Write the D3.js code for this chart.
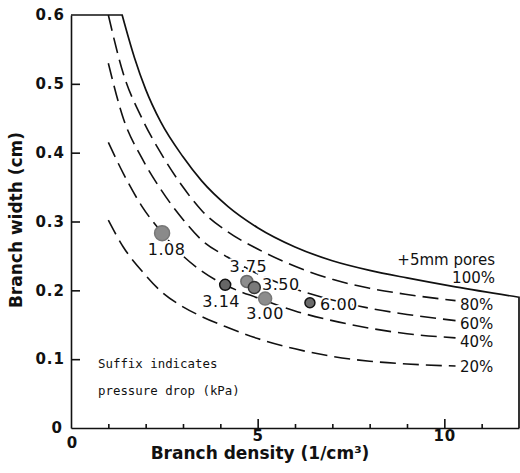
<!DOCTYPE html>
<html>
<head>
<meta charset="utf-8">
<script src="https://cdn.jsdelivr.net/npm/d3@7"></script>
<style>
  html, body { margin: 0; padding: 0; background: #fff; }
  svg { display: block; }
</style>
</head>
<body>
<svg id="chart" width="520" height="473"></svg>
<script>
// ---------------- data ----------------
const densityGrid = [1.0, 1.4, 1.9, 2.4, 3.0, 3.5, 4.2, 5.0, 6.0, 7.0, 8.0, 9.0, 10.3];
const width80 = [0.600, 0.515, 0.450, 0.400, 0.350, 0.316, 0.285, 0.260, 0.235, 0.216, 0.203, 0.194, 0.185];
const width60 = [0.530, 0.450, 0.392, 0.347, 0.303, 0.273, 0.248, 0.224, 0.202, 0.186, 0.174, 0.165, 0.156];
const width40 = [0.415, 0.370, 0.322, 0.286, 0.250, 0.228, 0.206, 0.189, 0.170, 0.156, 0.145, 0.137, 0.131];
const width20 = [0.302, 0.263, 0.228, 0.199, 0.176, 0.162, 0.146, 0.130, 0.115, 0.104, 0.097, 0.093, 0.090];
const dashedNames = ["80%", "60%", "40%", "20%"];

const solidDensity = [1.37, 1.7, 2.0, 2.4, 3.0, 3.5, 4.2, 5.0, 6.0, 7.0, 8.0, 9.0, 10.3, 12.0];
const width100 = [0.600, 0.538, 0.492, 0.445, 0.394, 0.359, 0.322, 0.291, 0.263, 0.243, 0.229, 0.218, 0.205, 0.190];
const plateauWidth = 0.6;

const dotDensity = [2.44, 4.71, 4.91, 4.13, 5.20, 6.40];
const dotWidth = [0.283, 0.213, 0.204, 0.208, 0.188, 0.182];
const dotLabels = ["1.08", "3.75", "3.50", "3.14", "3.00", "6.00"];

const xMinorTicks = [1, 2, 3, 4, 6, 7, 8, 9, 11];
const xMajorTicks = [5, 10];
const yTicks = [0, 0.1, 0.2, 0.3, 0.4, 0.5, 0.6];

// ---------------- styles / layout ----------------
const dotStyle = [
  {r: 7.5, fill: "#8a8a8a", stroke: "#777"},
  {r: 6,   fill: "#8d8d8d", stroke: "#6a6a6a"},
  {r: 6,   fill: "#7a7a7a", stroke: "#333"},
  {r: 5.5, fill: "#666",    stroke: "#111"},
  {r: 6.5, fill: "#8d8d8d", stroke: "#777"},
  {r: 5,   fill: "#6a6a6a", stroke: "#111"}
];
const labelOffset = [[4.5, 22], [1.5, -9], [26.5, 2], [-4, 22], [0, 20], [29, 7]];
const curveLabelY = [310, 329, 347, 372];

const svg = d3.select("#chart");
const x = d3.scaleLinear().domain([0, 12]).range([71, 519]);
const y = d3.scaleLinear().domain([0, 0.6]).range([428, 15]);

const FONT = "'DejaVu Sans', sans-serif";

// ---------------- axes ----------------
const xAxisMinor = d3.axisBottom(x).tickValues(xMinorTicks).tickSize(-4).tickSizeOuter(0).tickFormat("");
const xAxisMajor = d3.axisBottom(x).tickValues(xMajorTicks).tickSize(-9).tickSizeOuter(0).tickPadding(2);

const gx1 = svg.append("g").attr("transform", `translate(0,${y(0)})`).call(xAxisMinor);
const gx2 = svg.append("g").attr("transform", `translate(0,${y(0)})`).call(xAxisMajor);
gx2.select(".domain").remove();
[gx1, gx2].forEach(g => {
  g.selectAll("path, line").attr("stroke", "#111").attr("stroke-width", 1.6);
  g.selectAll("text").attr("font-family", FONT).attr("font-weight", "bold")
    .attr("font-size", 15).attr("fill", "#111").attr("letter-spacing", 1);
});
svg.append("text").attr("x", x(0) + 1).attr("y", 448).attr("text-anchor", "middle")
  .attr("font-family", FONT).attr("font-weight", "bold").attr("font-size", 15).attr("fill", "#111")
  .text("0");

const yAxis = d3.axisLeft(y).tickValues(yTicks).tickSize(-9).tickSizeOuter(0).tickPadding(6)
  .tickFormat(d => d === 0 ? "0" : d3.format(".1f")(d));
const gy = svg.append("g").attr("transform", `translate(${x(0)},0)`).call(yAxis);
gy.selectAll("path, line").attr("stroke", "#111").attr("stroke-width", 1.6);
gy.selectAll(".tick").filter(d => d === 0 || d === 0.6).select("line").remove();
gy.selectAll("text").attr("font-family", FONT).attr("font-weight", "bold")
  .attr("font-size", 15).attr("fill", "#111").attr("letter-spacing", 1);
gy.selectAll(".tick").filter(d => d === 0).select("text").attr("x", -8);

svg.append("text").attr("x", 260).attr("y", 459).attr("text-anchor", "middle")
  .attr("font-family", FONT).attr("font-weight", "bold").attr("font-size", 17).attr("fill", "#111")
  .text("Branch density (1/cm³)");
svg.append("text").attr("transform", "translate(22,220) rotate(-90)").attr("text-anchor", "middle")
  .attr("font-family", FONT).attr("font-weight", "bold").attr("font-size", 17).attr("fill", "#111")
  .text("Branch width (cm)");

// ---------------- curves ----------------
const line = d3.line().x(d => x(d[0])).y(d => y(d[1])).curve(d3.curveMonotoneX);

const solidPts = solidDensity.map((d, i) => [d, width100[i]]);
svg.append("path")
  .attr("d", `M${x(0)},${y(plateauWidth)}L${x(solidDensity[0])},${y(plateauWidth)}` +
    line(solidPts).replace(/^M/, "L") +
    `L${x(solidDensity[solidDensity.length - 1])},${y(0)}`)
  .attr("fill", "none").attr("stroke", "#111").attr("stroke-width", 1.7);

const dashedSeries = [width80, width60, width40, width20];
dashedSeries.forEach((ws) => {
  svg.append("path")
    .attr("d", line(densityGrid.map((d, i) => [d, ws[i]])))
    .attr("fill", "none").attr("stroke", "#111").attr("stroke-width", 1.6)
    .attr("stroke-dasharray", "16,7");
});

svg.append("text").attr("x", 495).attr("y", 265).attr("text-anchor", "end")
  .attr("font-family", FONT).attr("font-size", 15).attr("fill", "#111").text("+5mm pores");
svg.append("text").attr("x", 495).attr("y", 283).attr("text-anchor", "end")
  .attr("font-family", FONT).attr("font-size", 15).attr("fill", "#111").text("100%");
dashedNames.forEach((n, i) => {
  svg.append("text").attr("x", 460).attr("y", curveLabelY[i])
    .attr("font-family", FONT).attr("font-size", 15).attr("fill", "#111").text(n);
});

// ---------------- dots ----------------
const dotData = dotDensity.map((d, i) => ({d, w: dotWidth[i], label: dotLabels[i], s: dotStyle[i], o: labelOffset[i]}));
svg.selectAll("text.dl").data(dotData).enter().append("text").attr("class", "dl")
  .attr("x", p => x(p.d) + p.o[0]).attr("y", p => y(p.w) + p.o[1])
  .attr("text-anchor", "middle").attr("font-family", FONT).attr("font-size", 16)
  .attr("letter-spacing", 0.5).attr("fill", "#111")
  .attr("stroke", "#fff").attr("stroke-width", 4).attr("paint-order", "stroke")
  .text(p => p.label);
svg.selectAll("circle.dot").data(dotData).enter().append("circle").attr("class", "dot")
  .attr("cx", p => x(p.d)).attr("cy", p => y(p.w)).attr("r", p => p.s.r)
  .attr("fill", p => p.s.fill).attr("stroke", p => p.s.stroke).attr("stroke-width", 1.5);

const note = svg.append("g").attr("font-family", "'DejaVu Sans Mono', monospace").attr("font-size", 12.4).attr("fill", "#111");
note.append("text").attr("x", 98).attr("y", 368).text("Suffix indicates");
note.append("text").attr("x", 98).attr("y", 395).text("pressure drop (kPa)");
</script>
</body>
</html>
